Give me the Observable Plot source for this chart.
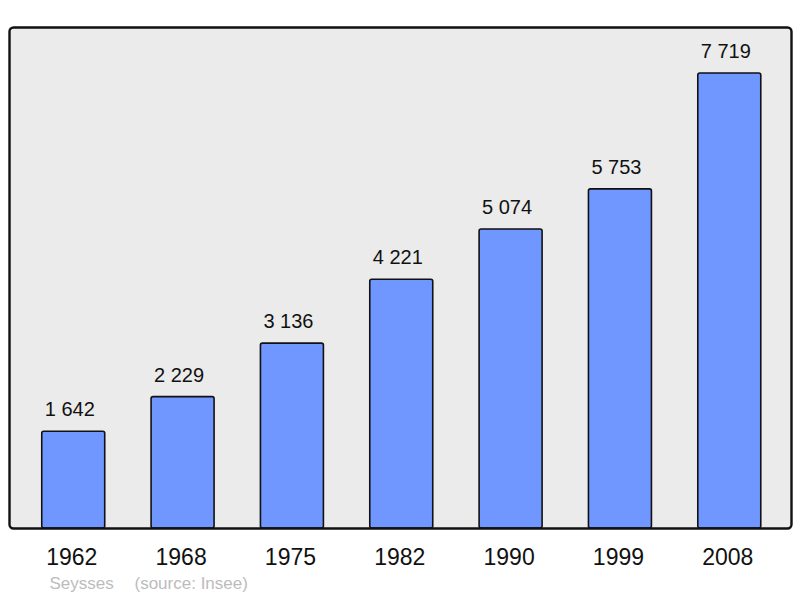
<!DOCTYPE html>
<html>
<head>
<meta charset="utf-8">
<script src="https://cdn.jsdelivr.net/npm/d3@7"></script>
<script src="https://cdn.jsdelivr.net/npm/@observablehq/plot@0.6"></script>
<style>
  html, body { margin: 0; padding: 0; background: #ffffff; }
  #chart svg { display: block; }
</style>
</head>
<body>
<div id="chart"></div>
<script>
const years = ["1962", "1968", "1975", "1982", "1990", "1999", "2008"];
const population = [1642, 2229, 3136, 4221, 5074, 5753, 7719];
const commune = "Seysses";
const source = "(source: Insee)";

const data = years.map((y, i) => ({year: y, pop: population[i]}));
const fmt = v => d3.format(",")(v).replace(/,/g, " ");

const chart = Plot.plot({
  width: 800,
  height: 598,
  marginTop: 27,
  marginBottom: 70,
  marginLeft: 9,
  marginRight: 9,
  style: {fontFamily: "'Liberation Sans', Arial, sans-serif", background: "#ffffff", overflow: "visible"},
  x: {domain: years, paddingInner: 0.424, paddingOuter: 0.288, align: 0.52, round: false, label: null},
  y: {domain: [0, 8500], axis: null},
  marks: [
    Plot.frame({fill: "#ebebeb", stroke: "none", rx: 4}),
    Plot.barY(data, {x: "year", y: "pop", fill: "#7097ff", stroke: "#111111", strokeWidth: 1.6, rx: 2}),
    Plot.text(data, {x: "year", y: "pop", text: d => fmt(d.pop), dy: -22, dx: -4, fontSize: 20, fill: "#111111"}),
    Plot.frame({stroke: "#111111", strokeWidth: 2.4, rx: 4, fill: "none"}),
    Plot.axisX({tickSize: 0, tickPadding: 20, dx: -2, fontSize: 23, fill: "#111111", label: null}),
    Plot.text([commune], {frameAnchor: "bottom-left", dx: 40, dy: 60, fontSize: 17, fill: "#bcbcbc", textAnchor: "start"}),
    Plot.text([source], {frameAnchor: "bottom-left", dx: 125, dy: 60, fontSize: 17, fill: "#bcbcbc", textAnchor: "start"})
  ]
});
document.getElementById("chart").appendChild(chart);
</script>
</body>
</html>
